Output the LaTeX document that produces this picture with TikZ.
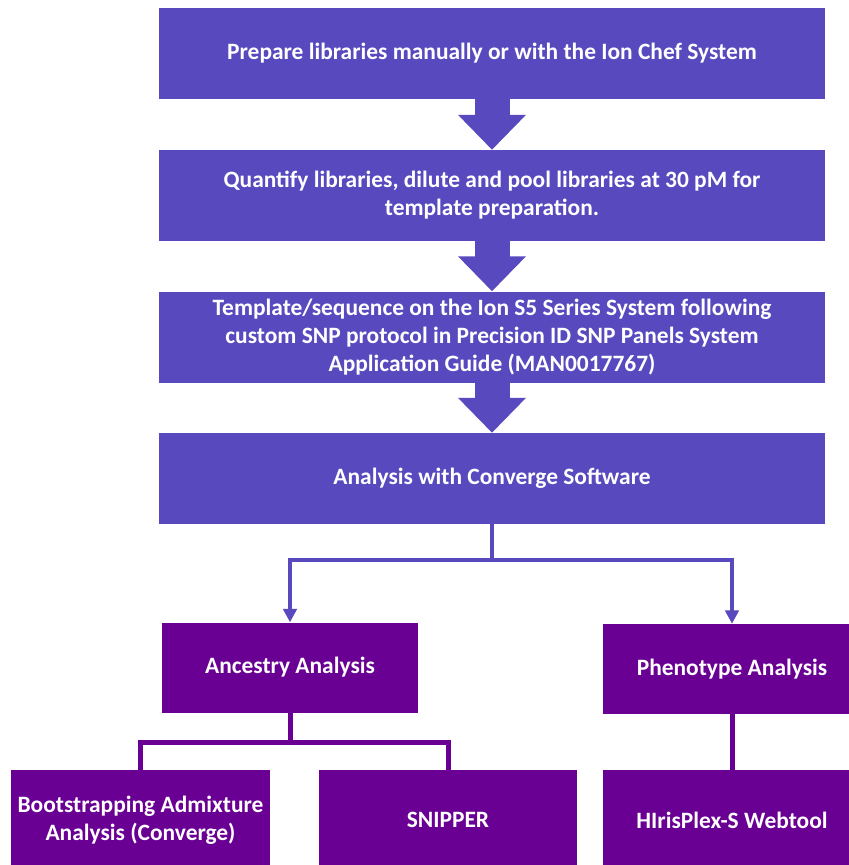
\documentclass[tikz,border=0pt]{standalone}
\usepackage{fontspec}
\setmainfont{Carlito}
\usetikzlibrary{arrows.meta}

\definecolor{stepblue}{HTML}{5849BE}
\definecolor{subpurple}{HTML}{690093}

\tikzset{
  stepbox/.style={fill=stepblue,text=white,font=\bfseries\fontsize{20}{24}\selectfont,
    align=center,minimum width=199.8mm,minimum height=27.3mm,inner sep=0pt},
  subbox/.style={fill=subpurple,text=white,font=\bfseries\fontsize{20}{24}\selectfont,
    align=center,minimum width=77.4mm,minimum height=27mm,inner sep=0pt},
  bigarrow/.style={draw=stepblue,line width=10.5mm,-{Triangle[width=19.8mm,length=10.5mm]}},
  split/.style={draw=stepblue,line width=1.2mm,-{Triangle[width=4mm,length=4mm]}},
  branch/.style={draw=subpurple,line width=1.5mm}
}

\begin{document}
\begin{tikzpicture}[x=0.3mm,y=-0.3mm]
  \clip (0,0) rectangle (849,865);
  \node[stepbox] (prep) at (492,53.5) {Prepare libraries manually or with the Ion Chef System};
  \node[stepbox] (quant) at (492,195.5) {Quantify libraries, dilute and pool libraries at 30 pM for\\template preparation.};
  \node[stepbox] (templ) at (492,337) {Template/sequence on the Ion S5 Series System following\\custom SNP protocol in Precision ID SNP Panels System\\Application Guide (MAN0017767)};
  \node[stepbox] (conv) at (492,478.5) {Analysis with Converge Software};

  \node[subbox,minimum width=76.8mm] (ances) at (290,667.5) {Ancestry Analysis};
  \node[subbox] (pheno) at (732,669) {Phenotype Analysis};
  \node[subbox,minimum height=30mm] (boot) at (140.5,820) {Bootstrapping Admixture\\Analysis (Converge)};
  \node[subbox,minimum height=30mm] (snip) at (448,820) {SNIPPER};
  \node[subbox,minimum height=30mm] (hiris) at (732,820) {HIrisPlex-S Webtool};

  \draw[bigarrow] (prep.south) -- (quant.north);
  \draw[bigarrow] (quant.south) -- (templ.north);
  \draw[bigarrow] (templ.south) -- (conv.north);

  \coordinate (csplit) at (492,560);
  \draw[split] (conv.south) -- (csplit) -| (ances.north);
  \draw[split] (csplit) -| (pheno.north);

  \coordinate (asplit) at (290,742);
  \draw[branch] (ances.south) -- (asplit) -| (boot.north);
  \draw[branch] (asplit) -| (snip.north);
  \draw[branch] (pheno.south) -- (hiris.north);
\end{tikzpicture}
\end{document}
